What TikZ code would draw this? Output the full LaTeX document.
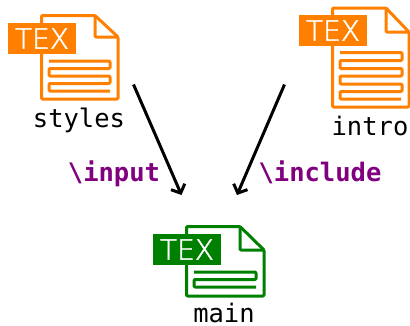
\documentclass[tikz,border=0pt]{standalone}
\usepackage{fontspec}
\setmonofont{DejaVu Sans Mono}
\newfontfamily\badgefont[FakeBold=1.6]{DejaVu Sans ExtraLight}
\usetikzlibrary{arrows.meta}
\definecolor{texorange}{HTML}{FF8000}
\definecolor{texgreen}{HTML}{008000}
\definecolor{cmdpurple}{HTML}{800080}
\tikzset{
  filebadge/.style={fill=#1,text=white,inner sep=0pt,minimum width=68pt,minimum height=31pt,font=\badgefont\fontsize{28}{28}\selectfont},
  fileline/.style={draw=#1,line width=3pt,line join=round,rounded corners=1pt},
  filename/.style={anchor=base,font=\ttfamily\fontsize{25.5}{26}\selectfont},
  cmdname/.style={anchor=base,text=cmdpurple,font=\ttfamily\bfseries\fontsize{25.5}{26}\selectfont},
  incarrow/.style={line width=3pt,-{Straight Barb[length=7pt,width=15pt]}}
}

\begin{document}
\begin{tikzpicture}[x=1pt,y=-1pt]
\useasboundingbox (0,0) rectangle (410,325);

% sheets with their badges
\foreach \f / \col / \l / \t / \r / \b / \fx / \fy / \bx / \by in
  {styles/texorange/41.5/15.5/118/99/95/37/42/38.5,
   intro/texorange/332.5/8/409/107/386/32/333/30.5,
   main/texgreen/186.5/226.5/264/296/240/250/187/249.5}
{
  \draw[fileline=\col] (\l,\t) -- (\fx,\t) -- (\r,\fy) -- (\r,\b) -- (\l,\b) -- cycle;
  \draw[fileline=\col] (\fx,\t) -- (\fx,\fy) -- (\r,\fy);
  \node[filebadge=\col] (\f) at (\bx,\by) {TEX};
}

% text lines on the sheets
\draw[fileline=texorange] (49,61) -- (110,61) -- (110,68.5) -- (49,68.5) -- (49,76) -- (110,76) -- (110,83.5) -- (49,83.5) -- (49,91) -- (110,91);
\draw[fileline=texorange] (340,52.5) -- (402,52.5) -- (402,60.5) -- (340,60.5) -- (340,68.5) -- (402,68.5) -- (402,76) -- (340,76) -- (340,84) -- (402,84) -- (402,91.5) -- (340,91.5) -- (340,99) -- (401,99);
\draw[fileline=texgreen] (194,272) -- (256,272) -- (256,279.5) -- (194,279.5) -- (194,287) -- (256,287);

% file names
\node[filename] (stylesname) at (79,127) {styles};
\node[filename] (introname) at (370,135) {intro};
\node[filename] (mainname) at (224,322.5) {main};

% arrows
\coordinate (stylesout) at (133.5,84.5);
\coordinate (introout) at (284.5,84.5);
\coordinate (mainleft) at (181.5,195);
\coordinate (mainright) at (237,195);
\draw[incarrow] (stylesout) -- (mainleft);
\draw[incarrow] (introout) -- (mainright);

\node[cmdname] (inputcmd) at (114,181) {\string\input};
\node[cmdname] (includecmd) at (320,181) {\string\include};

\end{tikzpicture}
\end{document}
